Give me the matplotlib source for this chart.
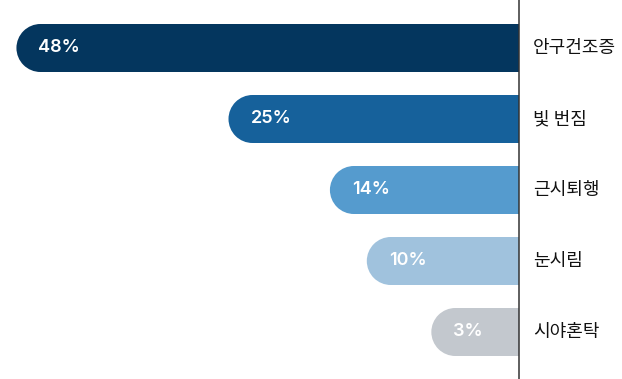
import matplotlib.pyplot as plt
from matplotlib.patches import Ellipse

labels = ['안구건조증', '빛 번짐', '근시퇴행', '눈시림', '시야혼탁']
values = [48, 25, 14, 10, 3]
colors = ['#04365E', '#16619B', '#559BCE', '#A0C2DD', '#C3C8CE']

plt.rcParams['font.family'] = ['Noto Sans CJK KR', 'DejaVu Sans']

PX = 9.22          # pixels per percent
fig = plt.figure(figsize=(6.22, 3.79), dpi=100)
ax = fig.add_axes([0, 0, 1, 1])
ax.set_xlim(-519 / PX, 103 / PX)
ax.set_ylim(4.662, -0.676)
ax.axis('off')

pad = 60 / PX      # minimum width so the small bars still hold their label
h = 0.676
r = 24 / PX        # radius of the rounded left end, in x units

for i, (v, c) in enumerate(zip(values, colors)):
    left = -(v + pad)
    ax.barh(i, -(v + pad - r), left=0, height=h, color=c, linewidth=0)
    ax.add_patch(Ellipse((left + r, i), 2 * r, h, color=c, lw=0))
    ax.text(left + 22 / PX, i, f'{v}%', color='white', fontsize=13,
            fontweight='semibold', family='Inter', va='center', ha='left')
    ax.text(14 / PX, i, labels[i], fontsize=13, va='center', ha='left',
            color='#111111')

ax.axvline(0, color='#333333', lw=1.1)
fig.savefig('out.png', dpi=100)
